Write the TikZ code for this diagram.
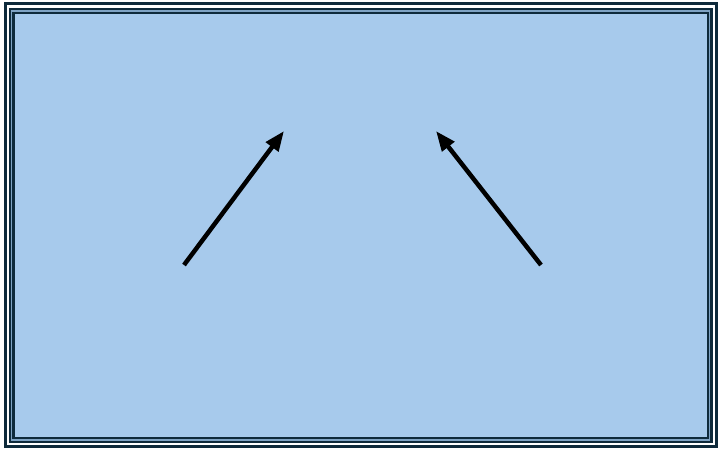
\documentclass[tikz,border=0pt]{standalone}
\usetikzlibrary{arrows.meta}
\definecolor{frameDark}{HTML}{0E2A3B}
\definecolor{frameLight}{HTML}{7FA3C4}
\definecolor{panelFill}{HTML}{A7CAEC}
\tikzset{
  pointer/.style={line width=4.5pt, -{Triangle[length=20pt,width=15pt]}, black}
}
\begin{document}
\begin{tikzpicture}[x=1pt,y=-1pt]
\useasboundingbox (0,0) rectangle (720,450);
\fill[white] (0,0) rectangle (720,450);
% outer thin frame
\draw[frameDark, line width=3pt] (5.5,3.5) rectangle (716.5,446.5);
% panel
\fill[panelFill] (11.5,11) rectangle (709.5,440);
\draw[frameDark, line width=6pt] (11.5,11) rectangle (709.5,440);
\draw[frameLight, line width=1.2pt] (11.5,11) rectangle (709.5,440);
\draw[frameDark, line width=0.8pt] (13.8,13.3) rectangle (707.2,437.7);
% arrows
\coordinate (a1s) at (184,265);
\coordinate (a1e) at (284,131);
\coordinate (a2s) at (541,265);
\coordinate (a2e) at (436,131);
\draw[pointer] (a1s) -- (a1e);
\draw[pointer] (a2s) -- (a2e);
\end{tikzpicture}
\end{document}
